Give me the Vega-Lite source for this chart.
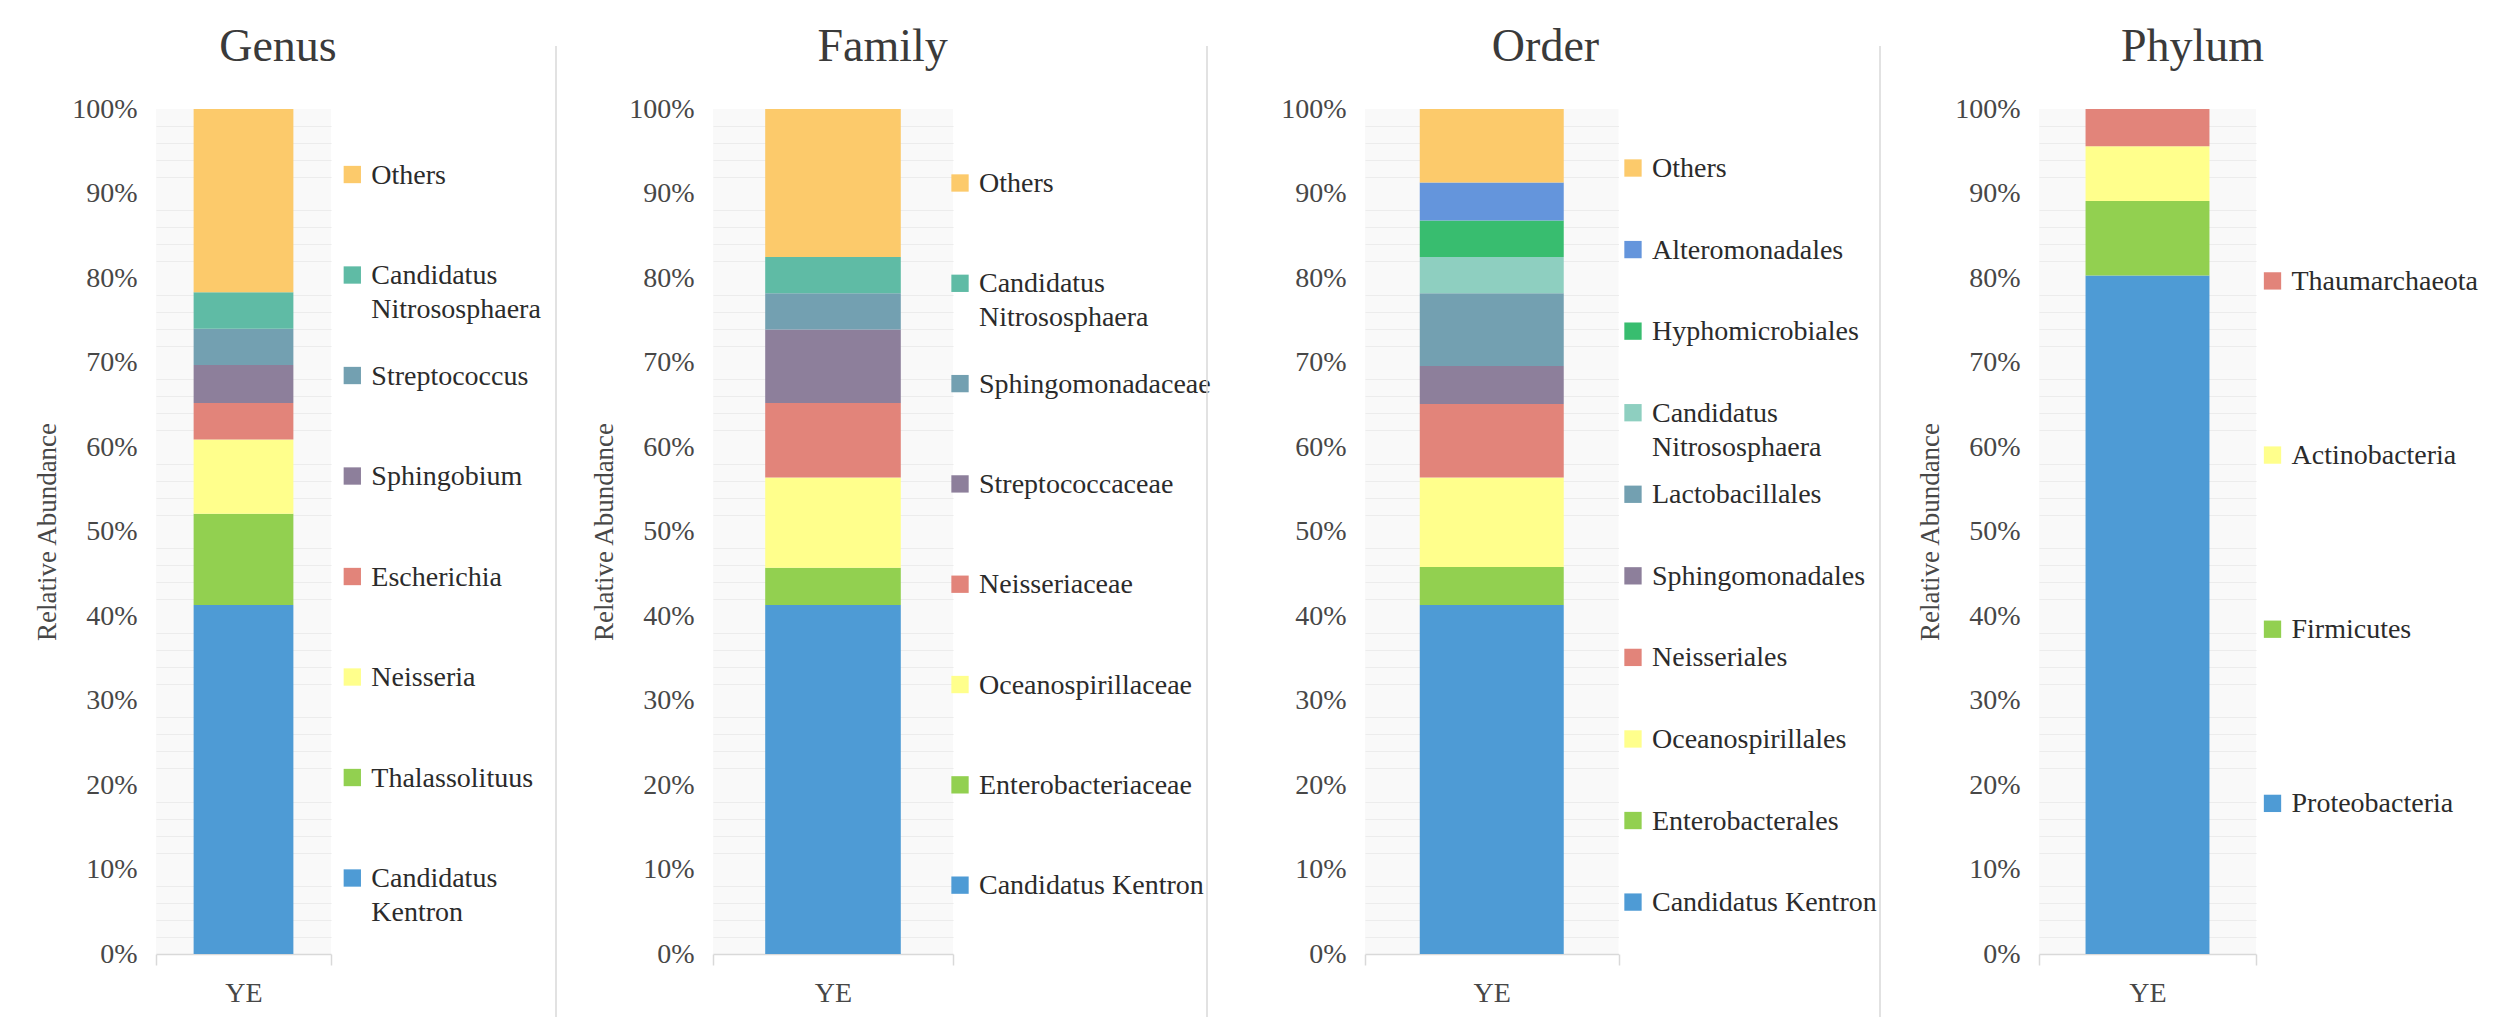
{
  "$schema": "https://vega.github.io/schema/vega-lite/v6.json",
  "background": "white",
  "padding": {"left": 33, "top": 24, "right": 0, "bottom": 0},
  "datasets": {
    "genus": [
      {"sample": "YE", "rank": 1, "taxon": "Candidatus Kentron", "label": "Candidatus\nKentron", "abundance": 0.413},
      {"sample": "YE", "rank": 2, "taxon": "Thalassolituus", "label": "Thalassolituus", "abundance": 0.108},
      {"sample": "YE", "rank": 3, "taxon": "Neisseria", "label": "Neisseria", "abundance": 0.088},
      {"sample": "YE", "rank": 4, "taxon": "Escherichia", "label": "Escherichia", "abundance": 0.043},
      {"sample": "YE", "rank": 5, "taxon": "Sphingobium", "label": "Sphingobium", "abundance": 0.045},
      {"sample": "YE", "rank": 6, "taxon": "Streptococcus", "label": "Streptococcus", "abundance": 0.043},
      {"sample": "YE", "rank": 7, "taxon": "Candidatus Nitrososphaera", "label": "Candidatus\nNitrososphaera", "abundance": 0.043},
      {"sample": "YE", "rank": 8, "taxon": "Others", "label": "Others", "abundance": 0.217}
    ],
    "family": [
      {"sample": "YE", "rank": 1, "taxon": "Candidatus Kentron", "label": "Candidatus Kentron", "abundance": 0.413},
      {"sample": "YE", "rank": 2, "taxon": "Enterobacteriaceae", "label": "Enterobacteriaceae", "abundance": 0.044},
      {"sample": "YE", "rank": 3, "taxon": "Oceanospirillaceae", "label": "Oceanospirillaceae", "abundance": 0.107},
      {"sample": "YE", "rank": 4, "taxon": "Neisseriaceae", "label": "\u00a0Neisseriaceae", "abundance": 0.088},
      {"sample": "YE", "rank": 5, "taxon": "Streptococcaceae", "label": "\u00a0Streptococcaceae", "abundance": 0.087},
      {"sample": "YE", "rank": 6, "taxon": "Sphingomonadaceae", "label": "Sphingomonadaceae", "abundance": 0.043},
      {"sample": "YE", "rank": 7, "taxon": "Candidatus Nitrososphaera", "label": "\u00a0Candidatus\nNitrososphaera", "abundance": 0.043},
      {"sample": "YE", "rank": 8, "taxon": "Others", "label": "Others", "abundance": 0.175}
    ],
    "order": [
      {"sample": "YE", "rank": 1, "taxon": "Candidatus Kentron", "label": "Candidatus Kentron", "abundance": 0.413},
      {"sample": "YE", "rank": 2, "taxon": "Enterobacterales", "label": "\u00a0Enterobacterales", "abundance": 0.045},
      {"sample": "YE", "rank": 3, "taxon": "Oceanospirillales", "label": "\u00a0Oceanospirillales", "abundance": 0.106},
      {"sample": "YE", "rank": 4, "taxon": "Neisseriales", "label": "\u00a0Neisseriales", "abundance": 0.087},
      {"sample": "YE", "rank": 5, "taxon": "Sphingomonadales", "label": "\u00a0Sphingomonadales", "abundance": 0.045},
      {"sample": "YE", "rank": 6, "taxon": "Lactobacillales", "label": "\u00a0Lactobacillales", "abundance": 0.086},
      {"sample": "YE", "rank": 7, "taxon": "Candidatus Nitrososphaera", "label": "\u00a0Candidatus\nNitrososphaera", "abundance": 0.043},
      {"sample": "YE", "rank": 8, "taxon": "Hyphomicrobiales", "label": "\u00a0Hyphomicrobiales", "abundance": 0.043},
      {"sample": "YE", "rank": 9, "taxon": "Alteromonadales", "label": "\u00a0Alteromonadales", "abundance": 0.045},
      {"sample": "YE", "rank": 10, "taxon": "Others", "label": "Others", "abundance": 0.087}
    ],
    "phylum": [
      {"sample": "YE", "rank": 1, "taxon": "Proteobacteria", "label": "\u00a0Proteobacteria", "abundance": 0.803},
      {"sample": "YE", "rank": 2, "taxon": "Firmicutes", "label": "\u00a0Firmicutes", "abundance": 0.088},
      {"sample": "YE", "rank": 3, "taxon": "Actinobacteria", "label": "\u00a0Actinobacteria", "abundance": 0.065},
      {"sample": "YE", "rank": 4, "taxon": "Thaumarchaeota", "label": "\u00a0Thaumarchaeota", "abundance": 0.044}
    ],
    "dividers": [{"edge": "divider"}]
  },
  "spacing": 0,
  "bounds": "flush",
  "center": true,
  "resolve": {"scale": {"x": "independent", "y": "independent", "color": "independent"}},
  "hconcat": [
    {
      "width": 175, "height": 845,
      "data": {"name": "genus"},
      "title": {"text": "Genus", "dx": 34.5},
      "view": {"fill": "#f9f9f9"},
      "layer": [
        {
          "mark": {"type": "bar", "opacity": 0, "width": {"band": 0.57}},
          "encoding": {
            "x": {"field": "sample", "type": "nominal", "scale": {"paddingInner": 0, "paddingOuter": 0}, "axis": {"title": null, "labelAngle": 0, "tickBand": "extent"}},
            "y": {"field": "abundance", "type": "quantitative", "stack": "zero", "scale": {"domain": [0, 1]}, "axis": {"orient": "right", "values": [0.02,0.04,0.06,0.08,0.12,0.14,0.16,0.18,0.22,0.24,0.26,0.28,0.32,0.34,0.36,0.38,0.42,0.44,0.46,0.48,0.52,0.54,0.56,0.58,0.62,0.64,0.66,0.68,0.72,0.74,0.76,0.78,0.82,0.84,0.86,0.88,0.92,0.94,0.96,0.98], "grid": true, "gridColor": "#ececec", "gridWidth": 1.2, "labels": false, "ticks": false, "domain": false, "title": null}},
            "order": {"field": "rank", "type": "quantitative"}
          }
        },
        {
          "mark": {"type": "bar", "width": {"band": 0.57}},
          "encoding": {
            "x": {"field": "sample", "type": "nominal", "scale": {"paddingInner": 0, "paddingOuter": 0}, "axis": {"title": null, "labelAngle": 0, "tickBand": "extent"}},
            "y": {"field": "abundance", "type": "quantitative", "stack": "zero", "scale": {"domain": [0, 1]}, "axis": {"title": "Relative Abundance", "format": ".0%", "values": [0,0.1,0.2,0.3,0.4,0.5,0.6,0.7,0.8,0.9,1]}},
            "color": {"field": "taxon", "type": "nominal", "legend": null, "scale": {"domain": ["Candidatus Kentron","Thalassolituus","Neisseria","Escherichia","Sphingobium","Streptococcus","Candidatus Nitrososphaera","Others"], "range": ["#4E9BD5","#92D050","#FFFF8C","#E2847A","#8D7F9B","#73A0B1","#5FBBA5","#FCCA6B"]}},
            "order": {"field": "rank", "type": "quantitative"}
          }
        }
      ],
      "resolve": {"axis": {"y": "independent"}}
    },
    {
      "width": 225, "height": 845,
      "data": {"name": "genus"},
      "encoding": {
        "x": {"field": "sample", "type": "nominal", "scale": {"type": "point", "padding": 0, "align": 0.0947}, "axis": null},
        "y": {"field": "taxon", "type": "nominal", "sort": {"field": "rank", "order": "descending"}, "scale": {"type": "point", "padding": 0.704, "align": 0.463}, "axis": null}
      },
      "layer": [
        {"mark": {"type": "square", "size": 300, "opacity": 1},
         "encoding": {"color": {"field": "taxon", "type": "nominal", "legend": null, "scale": {"domain": ["Candidatus Kentron","Thalassolituus","Neisseria","Escherichia","Sphingobium","Streptococcus","Candidatus Nitrososphaera","Others"], "range": ["#4E9BD5","#92D050","#FFFF8C","#E2847A","#8D7F9B","#73A0B1","#5FBBA5","#FCCA6B"]}}}},
        {"mark": {"type": "text", "align": "left", "baseline": "top", "dx": 19, "dy": -13, "fontSize": 28, "font": "Liberation Serif", "lineBreak": "\n", "lineHeight": 34, "color": "#2b2b2b"},
         "encoding": {"text": {"field": "label"}}}
      ]
    },
    {
      "width": 157, "height": 971,
      "data": {"name": "dividers"},
      "mark": {"type": "rule", "color": "#d9d9d9", "strokeWidth": 1.5},
      "encoding": {"x": {"field": "edge", "type": "nominal", "scale": {"type": "point", "padding": 0, "align": 0}, "axis": null}}
    },
    {
      "width": 240, "height": 845,
      "data": {"name": "family"},
      "title": {"text": "Family", "dx": 49.6},
      "view": {"fill": "#f9f9f9"},
      "layer": [
        {
          "mark": {"type": "bar", "opacity": 0, "width": {"band": 0.565}},
          "encoding": {
            "x": {"field": "sample", "type": "nominal", "scale": {"paddingInner": 0, "paddingOuter": 0}, "axis": {"title": null, "labelAngle": 0, "tickBand": "extent"}},
            "y": {"field": "abundance", "type": "quantitative", "stack": "zero", "scale": {"domain": [0, 1]}, "axis": {"orient": "right", "values": [0.02,0.04,0.06,0.08,0.12,0.14,0.16,0.18,0.22,0.24,0.26,0.28,0.32,0.34,0.36,0.38,0.42,0.44,0.46,0.48,0.52,0.54,0.56,0.58,0.62,0.64,0.66,0.68,0.72,0.74,0.76,0.78,0.82,0.84,0.86,0.88,0.92,0.94,0.96,0.98], "grid": true, "gridColor": "#ececec", "gridWidth": 1.2, "labels": false, "ticks": false, "domain": false, "title": null}},
            "order": {"field": "rank", "type": "quantitative"}
          }
        },
        {
          "mark": {"type": "bar", "width": {"band": 0.565}},
          "encoding": {
            "x": {"field": "sample", "type": "nominal", "scale": {"paddingInner": 0, "paddingOuter": 0}, "axis": {"title": null, "labelAngle": 0, "tickBand": "extent"}},
            "y": {"field": "abundance", "type": "quantitative", "stack": "zero", "scale": {"domain": [0, 1]}, "axis": {"title": "Relative Abundance", "format": ".0%", "values": [0,0.1,0.2,0.3,0.4,0.5,0.6,0.7,0.8,0.9,1]}},
            "color": {"field": "taxon", "type": "nominal", "legend": null, "scale": {"domain": ["Candidatus Kentron","Enterobacteriaceae","Oceanospirillaceae","Neisseriaceae","Streptococcaceae","Sphingomonadaceae","Candidatus Nitrososphaera","Others"], "range": ["#4E9BD5","#92D050","#FFFF8C","#E2847A","#8D7F9B","#73A0B1","#5FBBA5","#FCCA6B"]}},
            "order": {"field": "rank", "type": "quantitative"}
          }
        }
      ],
      "resolve": {"axis": {"y": "independent"}}
    },
    {
      "width": 254, "height": 845,
      "data": {"name": "family"},
      "encoding": {
        "x": {"field": "sample", "type": "nominal", "scale": {"type": "point", "padding": 0, "align": 0.0276}, "axis": null},
        "y": {"field": "taxon", "type": "nominal", "sort": {"field": "rank", "order": "descending"}, "scale": {"type": "point", "padding": 0.712, "align": 0.518}, "axis": null}
      },
      "layer": [
        {"mark": {"type": "square", "size": 300, "opacity": 1},
         "encoding": {"color": {"field": "taxon", "type": "nominal", "legend": null, "scale": {"domain": ["Candidatus Kentron","Enterobacteriaceae","Oceanospirillaceae","Neisseriaceae","Streptococcaceae","Sphingomonadaceae","Candidatus Nitrososphaera","Others"], "range": ["#4E9BD5","#92D050","#FFFF8C","#E2847A","#8D7F9B","#73A0B1","#5FBBA5","#FCCA6B"]}}}},
        {"mark": {"type": "text", "align": "left", "baseline": "top", "dx": 19, "dy": -13, "fontSize": 28, "font": "Liberation Serif", "lineBreak": "\n", "lineHeight": 34, "color": "#2b2b2b"},
         "encoding": {"text": {"field": "label"}}}
      ]
    },
    {
      "width": 157.5, "height": 971,
      "data": {"name": "dividers"},
      "mark": {"type": "rule", "color": "#d9d9d9", "strokeWidth": 1.5},
      "encoding": {"x": {"field": "edge", "type": "nominal", "scale": {"type": "point", "padding": 0, "align": 0}, "axis": null}}
    },
    {
      "width": 253.5, "height": 845,
      "data": {"name": "order"},
      "title": {"text": "Order", "dx": 53.75},
      "view": {"fill": "#f9f9f9"},
      "layer": [
        {
          "mark": {"type": "bar", "opacity": 0, "width": {"band": 0.568}},
          "encoding": {
            "x": {"field": "sample", "type": "nominal", "scale": {"paddingInner": 0, "paddingOuter": 0}, "axis": {"title": null, "labelAngle": 0, "tickBand": "extent"}},
            "y": {"field": "abundance", "type": "quantitative", "stack": "zero", "scale": {"domain": [0, 1]}, "axis": {"orient": "right", "values": [0.02,0.04,0.06,0.08,0.12,0.14,0.16,0.18,0.22,0.24,0.26,0.28,0.32,0.34,0.36,0.38,0.42,0.44,0.46,0.48,0.52,0.54,0.56,0.58,0.62,0.64,0.66,0.68,0.72,0.74,0.76,0.78,0.82,0.84,0.86,0.88,0.92,0.94,0.96,0.98], "grid": true, "gridColor": "#ececec", "gridWidth": 1.2, "labels": false, "ticks": false, "domain": false, "title": null}},
            "order": {"field": "rank", "type": "quantitative"}
          }
        },
        {
          "mark": {"type": "bar", "width": {"band": 0.568}},
          "encoding": {
            "x": {"field": "sample", "type": "nominal", "scale": {"paddingInner": 0, "paddingOuter": 0}, "axis": {"title": null, "labelAngle": 0, "tickBand": "extent"}},
            "y": {"field": "abundance", "type": "quantitative", "stack": "zero", "scale": {"domain": [0, 1]}, "axis": {"title": null, "format": ".0%", "values": [0,0.1,0.2,0.3,0.4,0.5,0.6,0.7,0.8,0.9,1]}},
            "color": {"field": "taxon", "type": "nominal", "legend": null, "scale": {"domain": ["Candidatus Kentron","Enterobacterales","Oceanospirillales","Neisseriales","Sphingomonadales","Lactobacillales","Candidatus Nitrososphaera","Hyphomicrobiales","Alteromonadales","Others"], "range": ["#4E9BD5","#92D050","#FFFF8C","#E2847A","#8D7F9B","#73A0B1","#8ECFC0","#38BD6F","#6495DC","#FCCA6B"]}},
            "order": {"field": "rank", "type": "quantitative"}
          }
        }
      ],
      "resolve": {"axis": {"y": "independent"}}
    },
    {
      "width": 261, "height": 845,
      "data": {"name": "order"},
      "encoding": {
        "x": {"field": "sample", "type": "nominal", "scale": {"type": "point", "padding": 0, "align": 0.0536}, "axis": null},
        "y": {"field": "taxon", "type": "nominal", "sort": {"field": "rank", "order": "descending"}, "scale": {"type": "point", "padding": 0.68, "align": 0.532}, "axis": null}
      },
      "layer": [
        {"mark": {"type": "square", "size": 300, "opacity": 1},
         "encoding": {"color": {"field": "taxon", "type": "nominal", "legend": null, "scale": {"domain": ["Candidatus Kentron","Enterobacterales","Oceanospirillales","Neisseriales","Sphingomonadales","Lactobacillales","Candidatus Nitrososphaera","Hyphomicrobiales","Alteromonadales","Others"], "range": ["#4E9BD5","#92D050","#FFFF8C","#E2847A","#8D7F9B","#73A0B1","#8ECFC0","#38BD6F","#6495DC","#FCCA6B"]}}}},
        {"mark": {"type": "text", "align": "left", "baseline": "top", "dx": 19, "dy": -13, "fontSize": 28, "font": "Liberation Serif", "lineBreak": "\n", "lineHeight": 34, "color": "#2b2b2b"},
         "encoding": {"text": {"field": "label"}}}
      ]
    },
    {
      "width": 159, "height": 971,
      "data": {"name": "dividers"},
      "mark": {"type": "rule", "color": "#d9d9d9", "strokeWidth": 1.5},
      "encoding": {"x": {"field": "edge", "type": "nominal", "scale": {"type": "point", "padding": 0, "align": 0}, "axis": null}}
    },
    {
      "width": 217, "height": 845,
      "data": {"name": "phylum"},
      "title": {"text": "Phylum", "dx": 45},
      "view": {"fill": "#f9f9f9"},
      "layer": [
        {
          "mark": {"type": "bar", "opacity": 0, "width": {"band": 0.571}},
          "encoding": {
            "x": {"field": "sample", "type": "nominal", "scale": {"paddingInner": 0, "paddingOuter": 0}, "axis": {"title": null, "labelAngle": 0, "tickBand": "extent"}},
            "y": {"field": "abundance", "type": "quantitative", "stack": "zero", "scale": {"domain": [0, 1]}, "axis": {"orient": "right", "values": [0.02,0.04,0.06,0.08,0.12,0.14,0.16,0.18,0.22,0.24,0.26,0.28,0.32,0.34,0.36,0.38,0.42,0.44,0.46,0.48,0.52,0.54,0.56,0.58,0.62,0.64,0.66,0.68,0.72,0.74,0.76,0.78,0.82,0.84,0.86,0.88,0.92,0.94,0.96,0.98], "grid": true, "gridColor": "#ececec", "gridWidth": 1.2, "labels": false, "ticks": false, "domain": false, "title": null}},
            "order": {"field": "rank", "type": "quantitative"}
          }
        },
        {
          "mark": {"type": "bar", "width": {"band": 0.571}},
          "encoding": {
            "x": {"field": "sample", "type": "nominal", "scale": {"paddingInner": 0, "paddingOuter": 0}, "axis": {"title": null, "labelAngle": 0, "tickBand": "extent"}},
            "y": {"field": "abundance", "type": "quantitative", "stack": "zero", "scale": {"domain": [0, 1]}, "axis": {"title": "Relative Abundance", "format": ".0%", "values": [0,0.1,0.2,0.3,0.4,0.5,0.6,0.7,0.8,0.9,1]}},
            "color": {"field": "taxon", "type": "nominal", "legend": null, "scale": {"domain": ["Proteobacteria","Firmicutes","Actinobacteria","Thaumarchaeota"], "range": ["#4E9BD5","#92D050","#FFFF8C","#E2847A"]}},
            "order": {"field": "rank", "type": "quantitative"}
          }
        }
      ],
      "resolve": {"axis": {"y": "independent"}}
    },
    {
      "width": 243, "height": 845,
      "data": {"name": "phylum"},
      "encoding": {
        "x": {"field": "sample", "type": "nominal", "scale": {"type": "point", "padding": 0, "align": 0.0679}, "axis": null},
        "y": {"field": "taxon", "type": "nominal", "sort": {"field": "rank", "order": "descending"}, "scale": {"type": "point", "padding": 0.926, "align": 0.533}, "axis": null}
      },
      "layer": [
        {"mark": {"type": "square", "size": 300, "opacity": 1},
         "encoding": {"color": {"field": "taxon", "type": "nominal", "legend": null, "scale": {"domain": ["Proteobacteria","Firmicutes","Actinobacteria","Thaumarchaeota"], "range": ["#4E9BD5","#92D050","#FFFF8C","#E2847A"]}}}},
        {"mark": {"type": "text", "align": "left", "baseline": "top", "dx": 19, "dy": -13, "fontSize": 28, "font": "Liberation Serif", "lineBreak": "\n", "lineHeight": 34, "color": "#2b2b2b"},
         "encoding": {"text": {"field": "label"}}}
      ]
    }
  ],
  "config": {
    "font": "Liberation Serif",
    "view": {"stroke": null},
    "title": {"fontSize": 46, "font": "Liberation Serif", "fontWeight": "normal", "color": "#3a3a3a", "anchor": "middle", "frame": "group", "baseline": "alphabetic", "offset": 24},
    "axisY": {"labelFont": "Liberation Serif", "labelFontSize": 28, "labelColor": "#474747", "labelPadding": 19, "domain": false, "ticks": false, "grid": true, "gridColor": "#d9d9d9", "gridWidth": 1.5, "titleFont": "Liberation Serif", "titleFontSize": 27, "titleFontWeight": "normal", "titleColor": "#474747", "titlePadding": 10},
    "axisX": {"labelFont": "Liberation Serif", "labelFontSize": 28, "labelColor": "#474747", "labelPadding": 14, "labelBaseline": "top", "domainColor": "#d9d9d9", "domainWidth": 1.5, "tickColor": "#d9d9d9", "tickWidth": 1.5, "tickSize": 11, "grid": false}
  }
}
